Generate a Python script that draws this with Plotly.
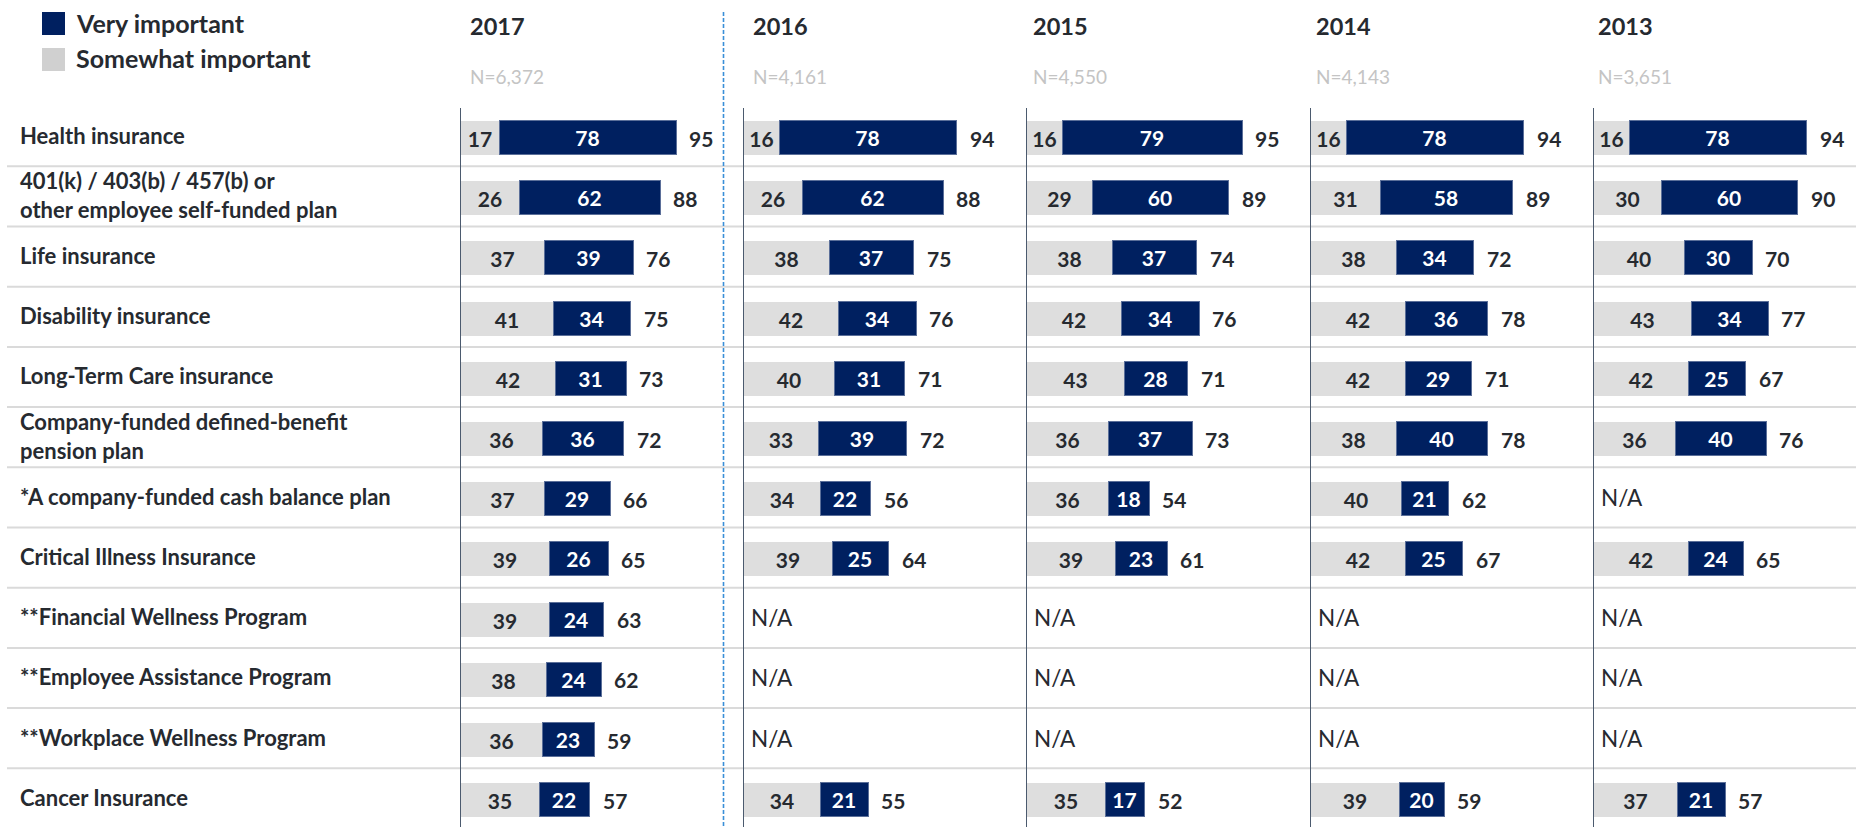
import plotly.graph_objects as go

W, H = 1856, 827

categories = [
    "Health insurance",
    "401(k) / 403(b) / 457(b) or<br>other employee self-funded plan",
    "Life insurance",
    "Disability insurance",
    "Long-Term Care insurance",
    "Company-funded defined-benefit<br>pension plan",
    "*A company-funded cash balance plan",
    "Critical Illness Insurance",
    "**Financial Wellness Program",
    "**Employee Assistance Program",
    "**Workplace Wellness Program",
    "Cancer Insurance",
]
years = ["2017", "2016", "2015", "2014", "2013"]
sample_sizes = ["N=6,372", "N=4,161", "N=4,550", "N=4,143", "N=3,651"]
N = None
somewhat = {
    "2017": [17, 26, 37, 41, 42, 36, 37, 39, 39, 38, 36, 35],
    "2016": [16, 26, 38, 42, 40, 33, 34, 39, N, N, N, 34],
    "2015": [16, 29, 38, 42, 43, 36, 36, 39, N, N, N, 35],
    "2014": [16, 31, 38, 42, 42, 38, 40, 42, N, N, N, 39],
    "2013": [16, 30, 40, 43, 42, 36, N, 42, N, N, N, 37],
}
very = {
    "2017": [78, 62, 39, 34, 31, 36, 29, 26, 24, 24, 23, 22],
    "2016": [78, 62, 37, 34, 31, 39, 22, 25, N, N, N, 21],
    "2015": [79, 60, 37, 34, 28, 37, 18, 23, N, N, N, 17],
    "2014": [78, 58, 34, 36, 29, 40, 21, 25, N, N, N, 20],
    "2013": [78, 60, 30, 34, 25, 40, N, 24, N, N, N, 21],
}
total = {
    "2017": [95, 88, 76, 75, 73, 72, 66, 65, 63, 62, 59, 57],
    "2016": [94, 88, 75, 76, 71, 72, 56, 64, N, N, N, 55],
    "2015": [95, 89, 74, 76, 71, 73, 54, 61, N, N, N, 52],
    "2014": [94, 89, 72, 78, 71, 78, 62, 67, N, N, N, 59],
    "2013": [94, 90, 70, 77, 67, 76, N, 65, N, N, N, 57],
}

NAVY = "#002060"
GRAY = "#dedede"
TXT = "#262a30"
FONT = "Lato"

# layout geometry (pixels)
panel_x = [460.5, 743.5, 1026.5, 1310.5, 1593.5]
header_x = [468, 751, 1031, 1314, 1596]
px_per_unit = 2.27
panel_w = [270, 270, 270, 270, W - 1593.5]
y_top_px = 108
row0_px, pitch = 138, 60.2
y_lo = (y_top_px - row0_px) / pitch
y_hi = (H - row0_px) / pitch

rows = list(range(len(categories)))

fig = go.Figure()
for k, yr in enumerate(years):
    xa = "x" if k == 0 else f"x{k+1}"
    ya = "y" if k == 0 else f"y{k+1}"
    fig.add_trace(go.Bar(
        y=rows, x=somewhat[yr], orientation="h", xaxis=xa, yaxis=ya,
        marker=dict(color=GRAY, line=dict(width=0)), width=0.565,
        text=[("" if v is None else str(v)) for v in somewhat[yr]],
        textposition="inside", insidetextanchor="middle", constraintext="none",
        textfont=dict(family=FONT, size=21, color=TXT, weight="bold"),
        showlegend=False, hoverinfo="skip", name="Somewhat important",
    ))
    fig.add_trace(go.Bar(
        y=rows, x=very[yr], orientation="h", xaxis=xa, yaxis=ya,
        marker=dict(color=NAVY, line=dict(width=1, color="#5b6f99")), width=0.565,
        text=[("" if v is None else str(v)) for v in very[yr]],
        textposition="inside", insidetextanchor="middle", constraintext="none",
        textfont=dict(family=FONT, size=21, color="white", weight="bold"),
        showlegend=False, hoverinfo="skip", name="Very important",
    ))
    # total labels / N/A
    for i in rows:
        s, v, t = somewhat[yr][i], very[yr][i], total[yr][i]
        if t is None:
            fig.add_annotation(x=0, y=i, xref=xa, yref=ya, text="N/A", showarrow=False,
                               xanchor="left", xshift=5, yshift=2,
                               font=dict(family=FONT, size=22.5, color=TXT))
        else:
            fig.add_annotation(x=s + v, y=i, xref=xa, yref=ya, text=str(t), showarrow=False,
                               xanchor="left", xshift=11,
                               font=dict(family=FONT, size=21, color=TXT, weight="bold"))
    x0 = panel_x[k] / W
    x1 = (panel_x[k] + panel_w[k]) / W
    fig.layout[("xaxis" if k == 0 else f"xaxis{k+1}")] = dict(
        domain=[x0, min(x1, 1)], range=[0, panel_w[k] / px_per_unit], visible=False,
        anchor=ya, fixedrange=True)
    fig.layout[("yaxis" if k == 0 else f"yaxis{k+1}")] = dict(
        domain=[0, 1 - y_top_px / H], range=[y_hi, y_lo], anchor=xa,
        showline=True, linecolor="#4b5a6e", linewidth=1.3, showticklabels=False,
        showgrid=False, zeroline=False, ticks="", fixedrange=True)
    # headers
    fig.add_annotation(x=header_x[k] / W, y=1 - 26 / H, xref="paper", yref="paper",
                       text=yr, showarrow=False, xanchor="left", yanchor="middle",
                       font=dict(family=FONT, size=23.5, color=TXT, weight="bold"))
    fig.add_annotation(x=header_x[k] / W, y=1 - 77 / H, xref="paper", yref="paper",
                       text=sample_sizes[k], showarrow=False, xanchor="left", yanchor="middle",
                       font=dict(family=FONT, size=19, color="#c4c4c4"))

# category labels
for i, c in enumerate(categories):
    fig.add_annotation(x=18 / W, y=i, xref="paper", yref="y", text=c, showarrow=False,
                       xanchor="left", yanchor="middle", align="left", yshift=3,
                       font=dict(family=FONT, size=22, color=TXT, weight="bold"))

shapes = []
# horizontal separators
for i in rows[:-1]:
    shapes.append(dict(type="line", xref="paper", yref="y", x0=7 / W, x1=1,
                       y0=i + 0.47, y1=i + 0.47, line=dict(color="#dadada", width=2), layer="below"))
# dashed divider
shapes.append(dict(type="line", xref="paper", yref="paper", x0=723.5 / W, x1=723.5 / W,
                   y0=1 - 12 / H, y1=0, line=dict(color="#3a8fd8", width=1.6, dash="4px,2px")))
# legend squares
shapes.append(dict(type="rect", xref="paper", yref="paper", x0=42 / W, x1=65 / W,
                   y0=1 - 12 / H, y1=1 - 35 / H, fillcolor=NAVY, line=dict(width=0)))
shapes.append(dict(type="rect", xref="paper", yref="paper", x0=42 / W, x1=65 / W,
                   y0=1 - 48 / H, y1=1 - 71 / H, fillcolor="#d0d0d0", line=dict(width=0)))
fig.add_annotation(x=74 / W, y=1 - 23 / H, xref="paper", yref="paper", text="Very important",
                   showarrow=False, xanchor="left", yanchor="middle",
                   font=dict(family=FONT, size=25, color=TXT, weight="bold"))
fig.add_annotation(x=74 / W, y=1 - 58 / H, xref="paper", yref="paper", text="Somewhat important",
                   showarrow=False, xanchor="left", yanchor="middle",
                   font=dict(family=FONT, size=25, color=TXT, weight="bold"))

fig.update_layout(
    width=W, height=H, margin=dict(l=0, r=0, t=0, b=0),
    barmode="stack", bargap=0, plot_bgcolor="white", paper_bgcolor="white",
    shapes=shapes, font=dict(family=FONT, color=TXT),
)

fig.write_html("out.html", config={"displayModeBar": False},
               post_script="document.body.style.margin='0';document.body.style.overflow='hidden';")
